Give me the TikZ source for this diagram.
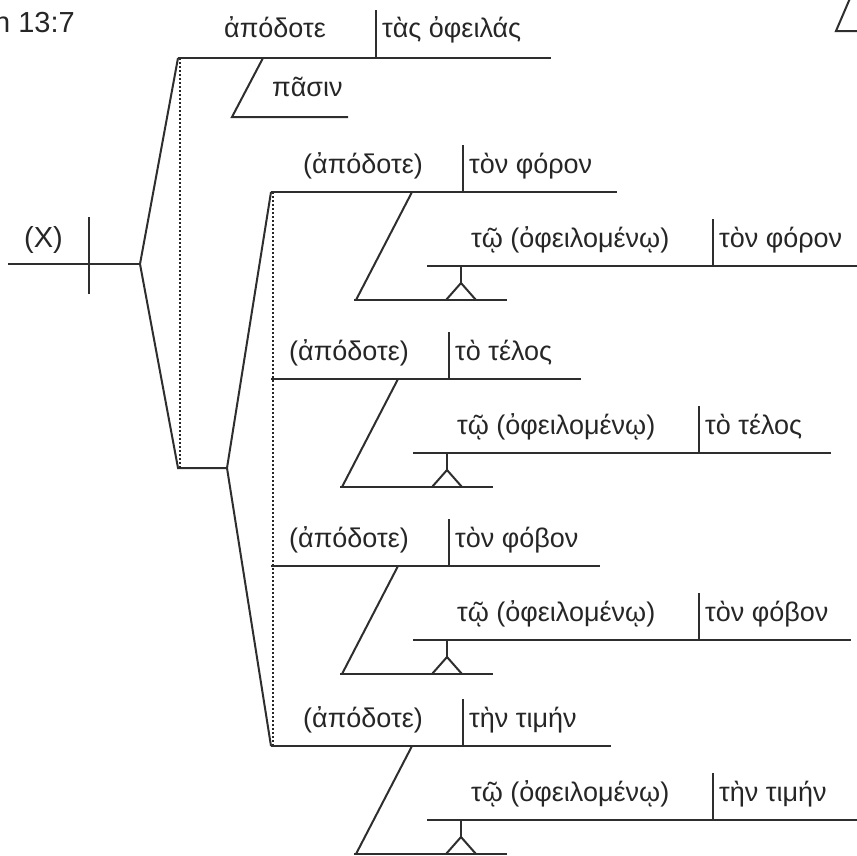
\documentclass[tikz,border=0pt]{standalone}
\usepackage{fontspec}
\setmainfont{Liberation Sans}
\usetikzlibrary{calc}

\begin{document}
\begin{tikzpicture}[x=1pt, y=-1pt,
    every node/.style={inner sep=0pt, anchor=base west, font=\fontsize{27}{32}\selectfont},
    word/.style={text=black!85},
    label/.style={font=\fontsize{29}{32}\selectfont, text=black!85},
    rule/.style={line width=2pt, draw=black!82},
    guide/.style={line width=2pt, draw=black!85, dash pattern=on 2pt off 2pt}]

  \useasboundingbox (0,0) rectangle (857,855);

  % heading, cut at the left edge
  \node[label] (ref) at (-6,32) {n 13:7};

  % main line with the implied subject
  \coordinate (xl) at (8,264);
  \coordinate (root) at (140,264);
  \coordinate (xt) at (89,217);
  \coordinate (xb) at (89,294);
  \node[label] (subj) at (24,247) {(X)};
  \draw[rule] (xl) -- (root);
  \draw[rule] (xt) -- (xb);

  % first fork
  \coordinate (top) at (178,58);
  \coordinate (fork) at (178,468);
  \coordinate (fork2) at (227,468);
  \draw[rule] (top) -- (root) -- (fork) -- (fork2);
  \draw[guide] (top) ++(1.5,0) -- ($(fork)+(1.5,0)$);

  % first clause
  \coordinate (tend) at (551,58);
  \coordinate (tdiv) at (376,10);
  \coordinate (tdivb) at (376,58);
  \coordinate (ts) at (263,58);
  \coordinate (tsb) at (232,117);
  \coordinate (tse) at (348,117);
  \node[word] (verb0) at (224,37) {ἀπόδοτε};
  \node[word] (obj0) at (382,37) {τὰς ὀφειλάς};
  \node[word] (ind0) at (272,96) {πᾶσιν};
  \draw[rule] (top) -- (tend);
  \draw[rule] (tdiv) -- (tdivb);
  \draw[rule] (ts) -- (tsb) -- (tse);

  % second fork
  \coordinate (up) at (271,192);
  \coordinate (down) at (271,746);
  \draw[rule] (up) -- (fork2) -- (down);
  \draw[guide] (up) ++(1.5,0) -- ($(down)+(1.5,0)$);

  % the four implied clauses
  \foreach \n/\y/\dx/\me/\pe/\obj in {%
      1/192/14/617/870/{τὸν φόρον},
      2/379/0/581/831/{τὸ τέλος},
      3/566/0/600/851/{τὸν φόβον},
      4/746/14/611/870/{τὴν τιμήν}} {
    \coordinate (a\n) at (271,\y);
    \coordinate (e\n) at (\me,\y);
    \coordinate (d\n) at (449+\dx,\y);
    \coordinate (dt\n) at (449+\dx,\y-47);
    \coordinate (s\n) at (398+\dx,\y);
    \coordinate (sb\n) at (342+\dx,\y+108);
    \coordinate (bl\n) at (340+\dx,\y+108);
    \coordinate (br\n) at (493+\dx,\y+108);
    \coordinate (pl\n) at (413+\dx,\y+74);
    \coordinate (pr\n) at (\pe,\y+74);
    \coordinate (pd\n) at (699+\dx,\y+74);
    \coordinate (pdt\n) at (699+\dx,\y+27);
    \coordinate (st\n) at (447+\dx,\y+74);
    \coordinate (sk\n) at (447+\dx,\y+91);
    \coordinate (kl\n) at (432+\dx,\y+108);
    \coordinate (kr\n) at (462+\dx,\y+108);
    \node[word] (v\n) at (289+\dx,\y-19) {(ἀπόδοτε)};
    \node[word] (o\n) at (455+\dx,\y-19) {\obj};
    \node[word] (p\n) at (457+\dx,\y+55) {τῷ (ὀφειλομένῳ)};
    \node[word] (q\n) at (705+\dx,\y+55) {\obj};
    \draw[rule] (a\n) -- (e\n);
    \draw[rule] (dt\n) -- (d\n);
    \draw[rule] (s\n) -- (sb\n);
    \draw[rule] (bl\n) -- (br\n);
    \draw[rule] (pl\n) -- (pr\n);
    \draw[rule] (pdt\n) -- (pd\n);
    \draw[rule] (st\n) -- (sk\n);
    \draw[rule] (kl\n) -- (sk\n) -- (kr\n);
  }

  % piece of the next diagram at the top right
  \coordinate (nx) at (851,-4);
  \coordinate (nxb) at (836,31);
  \coordinate (nxe) at (870,31);
  \draw[rule] (nx) -- (nxb) -- (nxe);
\end{tikzpicture}
\end{document}
